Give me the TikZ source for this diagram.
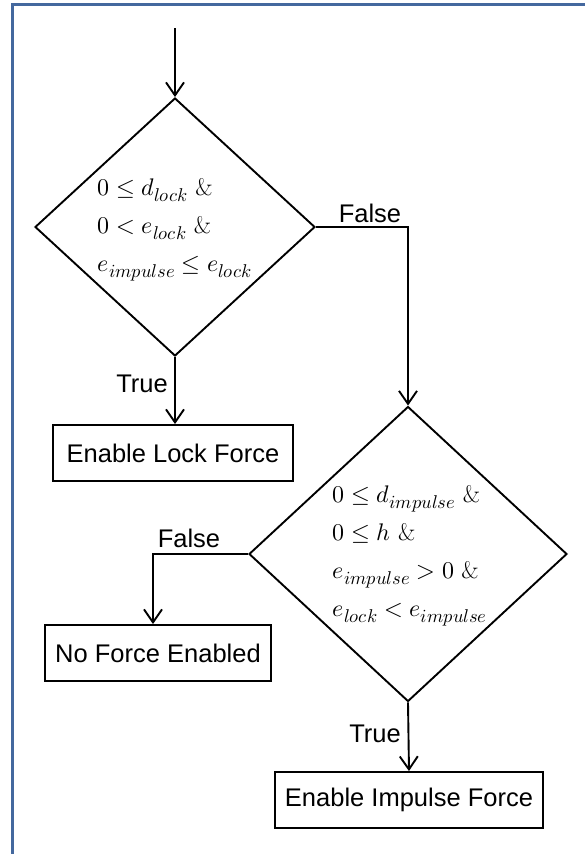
\documentclass[tikz,border=0pt]{standalone}
\usepackage{fontspec}
\usepackage{unicode-math}
\setsansfont{Liberation Sans}
\DeclareMathSizes{24}{24}{18.5}{14}
\usetikzlibrary{arrows.meta,shapes.geometric}
\definecolor{framblue}{RGB}{68,104,158}

\begin{document}
\begin{tikzpicture}[x=1pt,y=-1pt,line width=1.9pt,
  >={Straight Barb[length=13pt,width=18pt,line width=1.9pt]},
  dec/.style={draw,diamond,inner sep=0pt},
  act/.style={draw,rectangle,minimum height=56pt,inner sep=0pt,
    font=\sffamily\fontsize{25.5}{28}\selectfont},
  lbl/.style={font=\sffamily\fontsize{25.5}{28}\selectfont,inner sep=0pt},
  cond/.style={align=left,inner sep=0pt,anchor=west,font=\fontsize{24}{38}\selectfont}]
  \useasboundingbox (0,0) rectangle (585,854);
  \draw[framblue,line width=3pt] (590,4) -| (12,860);
  % decisions
  \node[dec,minimum width=280pt,minimum height=258pt] (d1) at (175,227) {};
  \node[dec,minimum width=318pt,minimum height=295pt] (d2) at (408,554) {};
  \node[cond] (c1) at (97,230) {$0\le d_{lock}$ \&\\ $0<e_{lock}$ \&\\ $e_{impulse}\le e_{lock}$};
  \node[cond] (c2) at (332,556) {$0\le d_{impulse}$ \&\\ $0\le h$ \&\\ $e_{impulse}>0$ \&\\ $e_{lock}<e_{impulse}$};
  % actions
  \node[act,minimum width=240pt] (lock) at (173,453) {Enable Lock Force};
  \node[act,minimum width=226pt] (none) at (158,653) {No Force Enabled};
  \node[act,minimum width=268pt] (imp) at (409,800) {Enable Impulse Force};
  \coordinate (in) at (175,28);
  % labels
  \node[lbl] (t1) at (142,384) {True};
  \node[lbl] (f1) at (370,213) {False};
  \node[lbl] (f2) at (189,538) {False};
  \node[lbl] (t2) at (375,734) {True};
  % connectors
  \draw[->] (in) -- (d1.north);
  \draw[->] (d1.south) -- (d1.south |- lock.north);
  \draw[->] (d1.east) -| (d2.north);
  \draw[->] (d2.west) -| ([xshift=-5pt]none.north);
  \draw[->] (d2.south) -- (imp.north);
\end{tikzpicture}
\end{document}
